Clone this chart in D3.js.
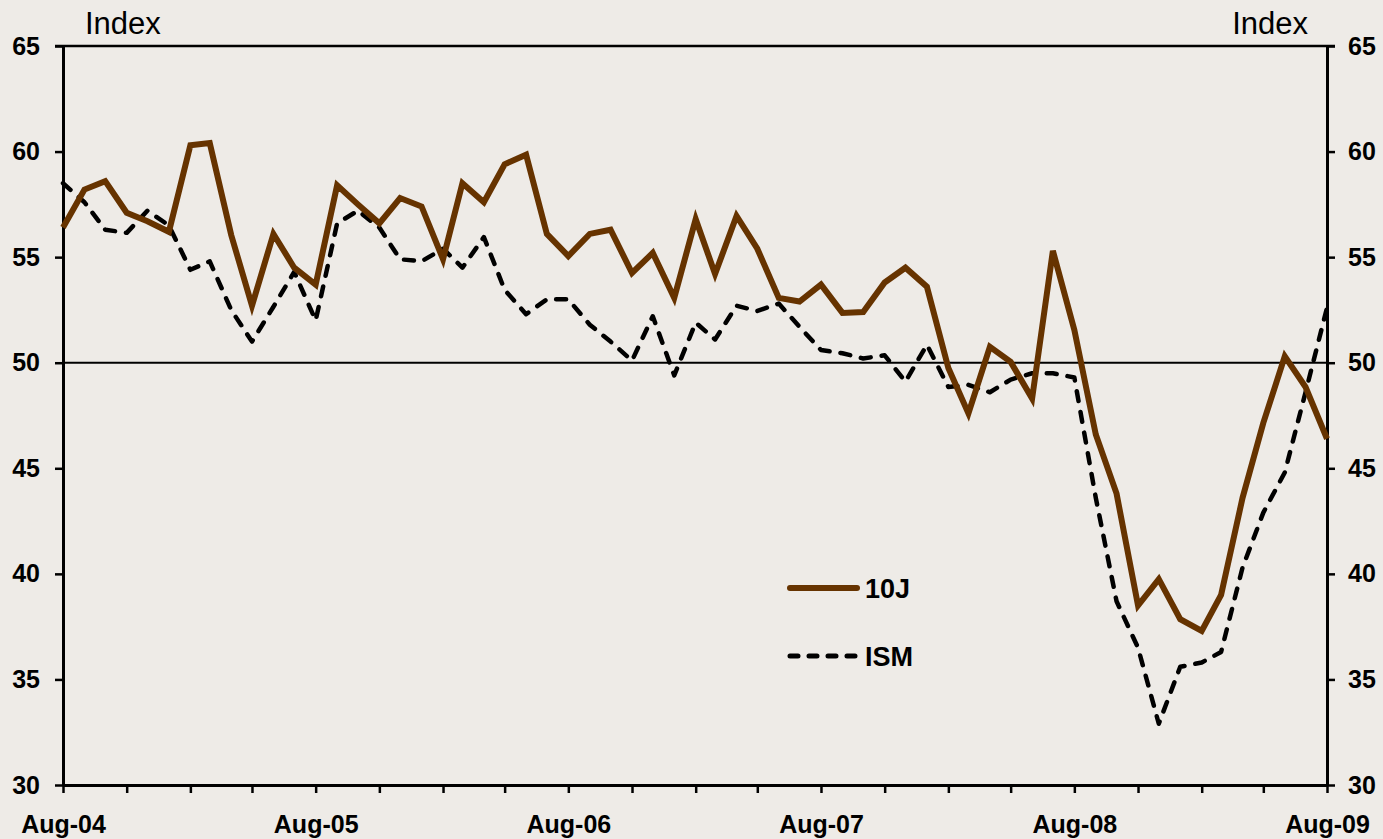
<!DOCTYPE html>
<html>
<head>
<meta charset="utf-8">
<script src="https://cdn.jsdelivr.net/npm/d3@7"></script>
<style>
  body { margin: 0; background: #eeebe7; }
  svg { display: block; font-family: "Liberation Sans", Arial, sans-serif; }
</style>
</head>
<body>
<div id="chart"></div>
<script>
// monthly, Aug-04 .. Aug-09
const startMonth = new Date(2004, 7, 1);
const tenJ = [
  56.4, 58.2, 58.6, 57.1, 56.7, 56.2, 60.3, 60.4, 56.05, 52.7, 56.1, 54.5, 53.7,
  58.4, 57.5, 56.6, 57.8, 57.4, 54.9, 58.5, 57.6, 59.4, 59.85, 56.1, 55.05,
  56.1, 56.3, 54.25, 55.2, 53.07, 56.8, 54.2, 56.95, 55.4, 53.07, 52.9, 53.7,
  52.36, 52.4, 53.8, 54.5, 53.6, 49.75, 47.6, 50.75, 50.04, 48.3, 55.3, 51.55,
  46.6, 43.8, 38.5, 39.75, 37.85, 37.3, 39.0, 43.6, 47.15, 50.3, 48.85, 46.4
];
const ism = [
  58.5, 57.6, 56.3, 56.15, 57.2, 56.5, 54.4, 54.8, 52.5, 51.0, 52.65, 54.3, 52.0,
  56.6, 57.2, 56.4, 54.9, 54.8, 55.4, 54.5, 55.95, 53.45, 52.3, 53.0, 53.0,
  51.8, 51.0, 50.1, 52.2, 49.4, 51.9, 51.1, 52.7, 52.45, 52.8, 51.7, 50.6,
  50.45, 50.2, 50.35, 49.1, 50.85, 48.85, 48.95, 48.6, 49.2, 49.5, 49.5, 49.3,
  43.6, 38.7, 36.5, 32.9, 35.6, 35.8, 36.3, 40.3, 42.9, 44.8, 48.6, 52.6
];
const yTicks = [30, 35, 40, 45, 50, 55, 60, 65];
const xLabels = ["Aug-04", "Aug-05", "Aug-06", "Aug-07", "Aug-08", "Aug-09"];
const seriesNames = ["10J", "ISM"];

const width = 1383, height = 839;
const margin = { top: 46, right: 56, bottom: 54, left: 63 };

const dates = tenJ.map((d, i) => d3.timeMonth.offset(startMonth, i));

const svg = d3.select("#chart").append("svg")
  .attr("width", width).attr("height", height);

svg.append("rect").attr("width", width).attr("height", height).attr("fill", "#eeebe7");

const x = d3.scaleTime()
  .domain([dates[0], dates[dates.length - 1]])
  .range([margin.left, width - margin.right]);

const y = d3.scaleLinear()
  .domain([30, 65])
  .range([height - margin.bottom, margin.top]);

// 50 reference line
svg.append("line")
  .attr("x1", x.range()[0]).attr("x2", x.range()[1])
  .attr("y1", y(50)).attr("y2", y(50))
  .attr("stroke", "#000").attr("stroke-width", 2);

// top frame line
svg.append("line")
  .attr("x1", x.range()[0] - 8).attr("x2", x.range()[1] + 8)
  .attr("y1", y(65)).attr("y2", y(65))
  .attr("stroke", "#000").attr("stroke-width", 2.5);

function styleAxis(g) {
  g.select(".domain").attr("stroke", "#000").attr("stroke-width", 3);
  g.selectAll(".tick line").attr("stroke", "#000").attr("stroke-width", 2.5);
  g.selectAll("text").attr("fill", "#000").attr("font-weight", "bold").attr("font-size", 25)
    .attr("font-family", "Liberation Sans, Arial, sans-serif");
}

svg.append("g")
  .attr("transform", `translate(${margin.left},0)`)
  .call(d3.axisLeft(y).tickValues(yTicks).tickSize(8).tickSizeOuter(0).tickPadding(15))
  .call(styleAxis);

svg.append("g")
  .attr("transform", `translate(${width - margin.right},0)`)
  .call(d3.axisRight(y).tickValues(yTicks).tickSize(8).tickSizeOuter(0).tickPadding(13))
  .call(styleAxis);

const quarterTicks = d3.range(0, dates.length, 3).map(i => dates[i]);
const xAxis = svg.append("g")
  .attr("transform", `translate(0,${height - margin.bottom})`)
  .call(d3.axisBottom(x).tickValues(quarterTicks).tickSize(8).tickSizeOuter(0)
    .tickFormat((d, i) => i % 4 === 0 ? xLabels[i / 4] : ""))
  .call(styleAxis);
xAxis.selectAll("text").attr("y", 30).attr("dy", "0.71em");

const line = d3.line().x((d, i) => x(dates[i])).y(d => y(d));

svg.append("path").datum(ism)
  .attr("fill", "none").attr("stroke", "#000").attr("stroke-width", 4.5)
  .attr("stroke-dasharray", "10,11").attr("stroke-linecap", "round")
  .attr("stroke-linejoin", "round")
  .attr("d", line);

svg.append("path").datum(tenJ)
  .attr("fill", "none").attr("stroke", "#663300").attr("stroke-width", 6)
  .attr("stroke-linejoin", "miter")
  .attr("d", line);

// axis titles
svg.append("text").attr("x", 85).attr("y", 34).attr("font-size", 31).text("Index");
svg.append("text").attr("x", 1308).attr("y", 34).attr("font-size", 31)
  .attr("text-anchor", "end").text("Index");

// legend
const legend = svg.append("g");
const legendItems = [
  { name: seriesNames[0], color: "#663300", dash: null, w: 6, yv: 588 },
  { name: seriesNames[1], color: "#000", dash: "8,11", w: 5, yv: 656 }
];
legendItems.forEach(it => {
  legend.append("line")
    .attr("x1", 790).attr("x2", 857).attr("y1", it.yv).attr("y2", it.yv)
    .attr("stroke", it.color).attr("stroke-width", it.w)
    .attr("stroke-linecap", "round")
    .attr("stroke-dasharray", it.dash);
  legend.append("text")
    .attr("x", 865).attr("y", it.yv + 10)
    .attr("font-size", 27).attr("font-weight", "bold").text(it.name);
});
</script>
</body>
</html>
